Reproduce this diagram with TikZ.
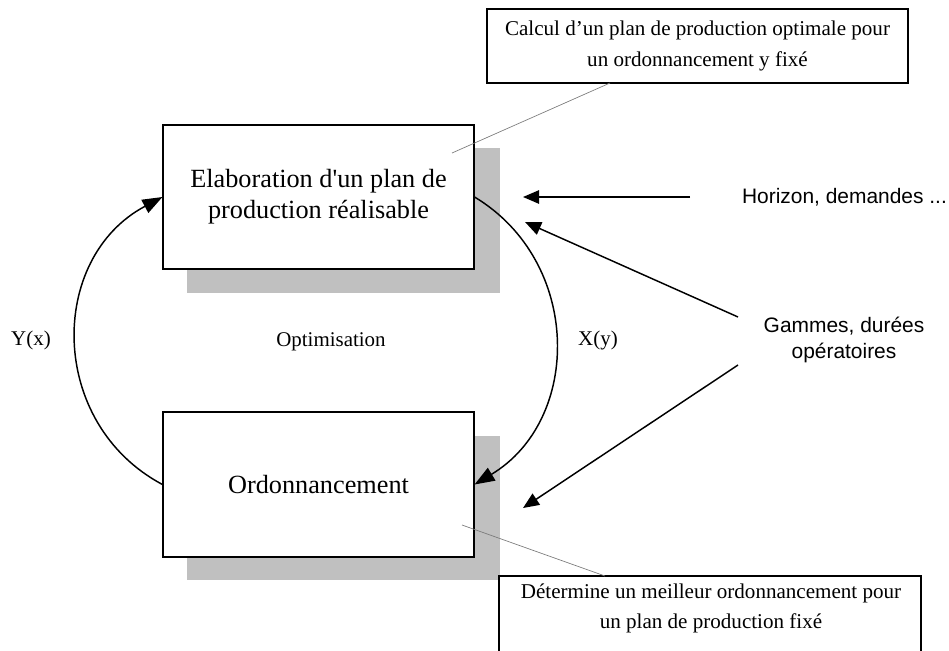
\documentclass[tikz,border=0pt]{standalone}
\usepackage{fontspec}
\setmainfont{Liberation Serif}
\setsansfont{Liberation Sans}
\usetikzlibrary{arrows.meta}
\definecolor{shadowgray}{HTML}{C0C0C0}
\definecolor{leadergray}{HTML}{7A7A7A}
\newcommand{\straightapos}{{\addfontfeatures{Ligatures=TeXOff}'}}
\begin{document}
\begin{tikzpicture}[x=0.75pt,y=0.75pt,
  mainbox/.style={draw=black, line width=0.8pt, fill=white, minimum width=233.25pt,
    minimum height=108pt, align=center, inner sep=0pt,
    font=\fontsize{19.7}{23.5}\selectfont},
  shadowbox/.style={fill=shadowgray, draw=none},
  callout/.style={draw=black, line width=0.8pt, fill=white, align=center, inner sep=0pt,
    font=\fontsize{15.8}{23}\selectfont},
  callouttext/.style={align=center, inner sep=0pt, font=\fontsize{15.8}{22.5}\selectfont},
  frame/.style={draw=black, line width=0.8pt},
  leader/.style={draw=leadergray, line width=0.5pt},
  bigarrow/.style={-{Triangle[length=15pt,width=11pt]}, line width=1.1pt},
  inarrow/.style={-{Triangle[length=12pt,width=10pt]}, line width=1.1pt},
  lbl/.style={align=center, inner sep=0pt, font=\fontsize{15.7}{19.5}\selectfont},
  sanslbl/.style={align=center, inner sep=0pt, font=\sffamily\fontsize{15.7}{19.5}\selectfont}
]
\useasboundingbox (0,0) rectangle (949,-650);
\clip (0,0) rectangle (949,-650);

% shadows
\fill[shadowbox] (187,-148) rectangle (500,-293);
\fill[shadowbox] (187,-436) rectangle (500,-580);

% main boxes
\node[mainbox] (elab) at (318.5,-197) {Elaboration d\straightapos un plan de\\production réalisable};
\node[mainbox, minimum height=108.75pt] (ord) at (318.5,-484.5) {Ordonnancement};

% callouts
\node[callout, minimum width=315.75pt, minimum height=55.5pt] (cal1) at (697.5,-46)
  {Calcul d’un plan de production optimale pour\\un ordonnancement y fixé};
\draw[frame] (499,-680) |- (921,-576) -- (921,-680);
\node[callouttext] (cal2) at (711,-608)
  {Détermine un meilleur ordonnancement pour\\un plan de production fixé};

% leader lines
\coordinate (l1a) at (610,-83);
\coordinate (l1b) at (452,-153);
\draw[leader] (l1a) -- (l1b);
\coordinate (l2a) at (605,-576);
\coordinate (l2b) at (462,-525);
\draw[leader] (l2a) -- (l2b);

% labels
\node[lbl] (yx) at (31,-340) {Y(x)};
\node[lbl] (optim) at (331,-342) {Optimisation};
\node[lbl] (xy) at (598,-340) {X(y)};
\node[sanslbl] (hor) at (844.5,-197) {Horizon, demandes ...};
\node[sanslbl] (gam) at (844,-340) {Gammes, durées\\opératoires};

% loop arrows
\draw[bigarrow] (elab.east) to[out=-31, in=31, looseness=1.12] (ord.east);
\draw[bigarrow] (ord.west) to[out=152, in=208, looseness=1.16] (elab.west);

% input arrows
\coordinate (h0) at (690,-197);
\coordinate (h1) at (523,-197);
\draw[inarrow] (h0) -- (h1);
\coordinate (g0) at (738,-317);
\coordinate (g1) at (525,-222);
\draw[inarrow] (g0) -- (g1);
\coordinate (g2) at (738,-365);
\coordinate (g3) at (523,-508);
\draw[inarrow] (g2) -- (g3);
\end{tikzpicture}
\end{document}
